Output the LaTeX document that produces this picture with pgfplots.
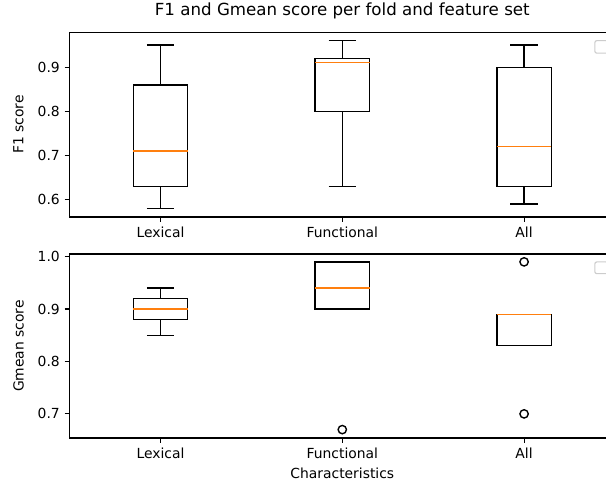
\documentclass[border=0pt]{standalone}
\usepackage{fontspec}
\setmainfont{DejaVu Sans}
\usepackage{pgfplots}
\pgfplotsset{compat=1.18}
\usepgfplotslibrary{statistics}
\definecolor{mplorange}{HTML}{FF7F0E}
\definecolor{legframe}{gray}{0.8}
\pgfplotsset{
  mybox/.style={
    scale only axis, width=392.69pt,
    axis line style={line width=0.8pt},
    xmin=0.5, xmax=3.5, xtick={1,2,3}, xticklabels={Lexical,Functional,All},
    tick align=outside, xtick pos=bottom, ytick pos=left, major tick length=3.5pt,
    every tick/.style={black, line width=0.8pt},
    /pgf/number format/assume math mode=true,
    tick label style={font=\fontsize{10}{12}\selectfont},
    yticklabel style={/pgf/number format/.cd, fixed, fixed zerofill, precision=1},
    label style={font=\fontsize{10}{12}\selectfont},
    ylabel style={at={(rel axis cs:0,0.5)}, anchor=center, yshift=36.8pt},
    boxplot/draw direction=y,
    boxplot/box extend=0.3,
    boxplot/whisker extend=0.15,
    boxplot/every box/.style={draw=black, line width=1pt},
    boxplot/every whisker/.style={draw=black, line width=1pt},
    boxplot/every median/.style={draw=mplorange, line width=1pt},
    clip=false,
  },
  bp/.style={black, line width=1pt, solid, mark=o, mark size=3pt, mark options={black, line width=1pt}},
}
\begin{document}
\begin{tikzpicture}
\useasboundingbox (0,0) rectangle (436.32pt,348.48pt);
\clip (0,0) rectangle (436.32pt,348.48pt);
% top axis
\begin{axis}[mybox,
  at={(50.11pt,192.24pt)}, anchor=south west, height=132.98pt,
  ymin=0.561, ymax=0.979, ytick={0.6,0.7,0.8,0.9},
  ylabel={F1 score},
  title={F1 and Gmean score per fold and feature set},
  title style={at={(rel axis cs:0.5,1)}, anchor=base, yshift=6pt, font=\fontsize{12}{14}\selectfont},
]
\addplot[bp, boxplot prepared={draw position=1, lower whisker=0.58, lower quartile=0.63, median=0.71, upper quartile=0.86, upper whisker=0.95}] coordinates {};
\addplot[bp, boxplot prepared={draw position=2, lower whisker=0.63, lower quartile=0.80, median=0.91, upper quartile=0.92, upper whisker=0.96}] coordinates {};
\addplot[bp, boxplot prepared={draw position=3, lower whisker=0.59, lower quartile=0.63, median=0.72, upper quartile=0.90, upper whisker=0.95}] coordinates {};
\draw[legframe, rounded corners=1.5pt, line width=0.8pt, fill=white] (rel axis cs:0.963,0.887) rectangle (rel axis cs:0.987,0.955);
\end{axis}
% bottom axis
\begin{axis}[mybox,
  at={(50.11pt,33.12pt)}, anchor=south west, height=132.48pt,
  ymin=0.654, ymax=1.005, ytick={0.7,0.8,0.9,1.0},
  ylabel={Gmean score},
  xlabel={Characteristics},
  xlabel style={at={(rel axis cs:0.5,0)}, anchor=center, yshift=-25.2pt},
]
\addplot[bp, boxplot prepared={draw position=1, lower whisker=0.85, lower quartile=0.88, median=0.90, upper quartile=0.92, upper whisker=0.94}] coordinates {};
\addplot[bp, boxplot prepared={draw position=2, lower whisker=0.90, lower quartile=0.90, median=0.94, upper quartile=0.99, upper whisker=0.99}] table[row sep=\\, y index=0, header=false] {0.67\\};
\addplot[bp, boxplot prepared={draw position=3, lower whisker=0.83, lower quartile=0.83, median=0.89, upper quartile=0.89, upper whisker=0.89}] table[row sep=\\, y index=0, header=false] {0.99\\ 0.70\\};
\draw[legframe, rounded corners=1.5pt, line width=0.8pt, fill=white] (rel axis cs:0.963,0.893) rectangle (rel axis cs:0.987,0.957);
\end{axis}
\end{tikzpicture}
\end{document}
